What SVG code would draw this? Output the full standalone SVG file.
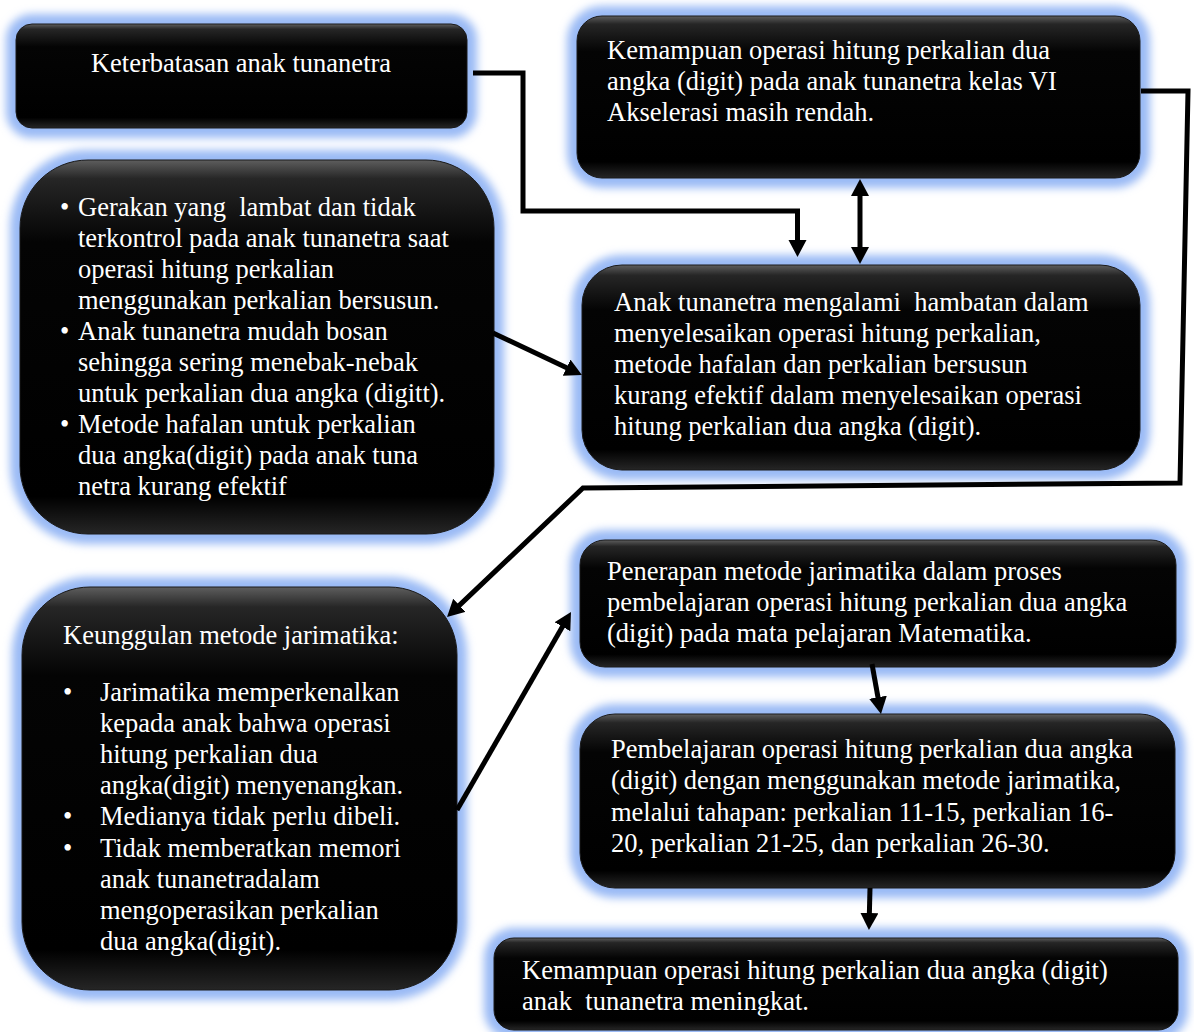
<svg xmlns="http://www.w3.org/2000/svg" width="1194" height="1032" viewBox="0 0 1194 1032">
<defs>
  <filter id="blur" x="-20%" y="-20%" width="140%" height="140%">
    <feGaussianBlur stdDeviation="4"/>
  </filter>
  <linearGradient id="body" x1="0" y1="0" x2="0" y2="1">
    <stop offset="0" stop-color="#5e5e5e"/>
    <stop offset="0.05" stop-color="#262626"/>
    <stop offset="0.22" stop-color="#040404"/>
    <stop offset="0.9" stop-color="#000"/>
    <stop offset="1" stop-color="#262626"/>
  </linearGradient>
  <marker id="ah" markerUnits="userSpaceOnUse" markerWidth="20" markerHeight="20" refX="3" refY="9" orient="auto-start-reverse">
    <path d="M0,0 L17,9 L0,18 z" fill="#000"/>
  </marker>
</defs>
<style>
  .glow { fill: #9abaf5; stroke: #9abaf5; stroke-width: 20; filter: url(#blur); }
  .box { fill: url(#body); stroke: #1a1a1a; stroke-width: 1; }
  text { font-family: "Liberation Serif", "Times New Roman", serif; font-size: 26.5px; fill: #fff; white-space: pre; }
  .conn { fill: none; stroke: #000; stroke-width: 5; stroke-linejoin: miter; }
</style>

<g id="n1">
  <rect class="glow" x="16" y="24" width="451" height="104" rx="16"/>
  <rect class="box" x="16" y="24" width="451" height="104" rx="16"/>
  <text x="241" y="72" text-anchor="middle">Keterbatasan anak tunanetra</text>
</g>

<g id="n2">
  <rect class="glow" x="577" y="16" width="563" height="162" rx="25"/>
  <rect class="box" x="577" y="16" width="563" height="162" rx="25"/>
  <text x="607" y="59">Kemampuan operasi hitung perkalian dua</text>
  <text x="607" y="90">angka (digit) pada anak tunanetra kelas VI</text>
  <text x="607" y="121">Akselerasi masih rendah.</text>
</g>

<g id="n3">
  <rect class="glow" x="20" y="160" width="474" height="374" rx="68"/>
  <rect class="box" x="20" y="160" width="474" height="374" rx="68"/>
  <text x="60" y="216">•</text><text x="78" y="216">Gerakan yang  lambat dan tidak</text>
  <text x="78" y="247">terkontrol pada anak tunanetra saat</text>
  <text x="78" y="278">operasi hitung perkalian</text>
  <text x="78" y="309">menggunakan perkalian bersusun.</text>
  <text x="60" y="340">•</text><text x="78" y="340">Anak tunanetra mudah bosan</text>
  <text x="78" y="371">sehingga sering menebak-nebak</text>
  <text x="78" y="402">untuk perkalian dua angka (digitt).</text>
  <text x="60" y="433">•</text><text x="78" y="433">Metode hafalan untuk perkalian</text>
  <text x="78" y="464">dua angka(digit) pada anak tuna</text>
  <text x="78" y="495">netra kurang efektif</text>
</g>

<g id="n4">
  <rect class="glow" x="582" y="265" width="558" height="205" rx="40"/>
  <rect class="box" x="582" y="265" width="558" height="205" rx="40"/>
  <text x="614" y="311">Anak tunanetra mengalami  hambatan dalam</text>
  <text x="614" y="342">menyelesaikan operasi hitung perkalian,</text>
  <text x="614" y="373">metode hafalan dan perkalian bersusun</text>
  <text x="614" y="404">kurang efektif dalam menyelesaikan operasi</text>
  <text x="614" y="435">hitung perkalian dua angka (digit).</text>
</g>

<g id="n5">
  <rect class="glow" x="22" y="587" width="435" height="403" rx="68"/>
  <rect class="box" x="22" y="587" width="435" height="403" rx="68"/>
  <text x="63" y="644">Keunggulan metode jarimatika:</text>
  <text x="63" y="701">•</text><text x="100" y="701">Jarimatika memperkenalkan</text>
  <text x="100" y="732">kepada anak bahwa operasi</text>
  <text x="100" y="763">hitung perkalian dua</text>
  <text x="100" y="794">angka(digit) menyenangkan.</text>
  <text x="63" y="825">•</text><text x="100" y="825">Medianya tidak perlu dibeli.</text>
  <text x="63" y="857">•</text><text x="100" y="857">Tidak memberatkan memori</text>
  <text x="100" y="888">anak tunanetradalam</text>
  <text x="100" y="919">mengoperasikan perkalian</text>
  <text x="100" y="950">dua angka(digit).</text>
</g>

<g id="n6">
  <rect class="glow" x="580" y="540" width="596" height="127" rx="25"/>
  <rect class="box" x="580" y="540" width="596" height="127" rx="25"/>
  <text x="607" y="580">Penerapan metode jarimatika dalam proses</text>
  <text x="607" y="611">pembelajaran operasi hitung perkalian dua angka</text>
  <text x="607" y="642">(digit) pada mata pelajaran Matematika.</text>
</g>

<g id="n7">
  <rect class="glow" x="580" y="714" width="595" height="174" rx="35"/>
  <rect class="box" x="580" y="714" width="595" height="174" rx="35"/>
  <text x="611" y="758">Pembelajaran operasi hitung perkalian dua angka</text>
  <text x="611" y="789">(digit) dengan menggunakan metode jarimatika,</text>
  <text x="611" y="821">melalui tahapan: perkalian 11-15, perkalian 16-</text>
  <text x="611" y="852">20, perkalian 21-25, dan perkalian 26-30.</text>
</g>

<g id="n8">
  <rect class="glow" x="494" y="938" width="684" height="92" rx="20"/>
  <rect class="box" x="494" y="938" width="684" height="92" rx="20"/>
  <text x="522" y="979">Kemampuan operasi hitung perkalian dua angka (digit)</text>
  <text x="522" y="1010">anak  tunanetra meningkat.</text>
</g>

<g id="connectors">
  <path class="conn" d="M473,73 H523 V211 H797.5 V243" marker-end="url(#ah)"/>
  <path class="conn" d="M860,193 V250" marker-start="url(#ah)" marker-end="url(#ah)"/>
  <path class="conn" d="M493,333 L569.3,369" marker-end="url(#ah)"/>
  <path class="conn" d="M1141,91 H1188 L1180,483 L583,488 L457.2,607.4" marker-end="url(#ah)"/>
  <path class="conn" d="M457,810 L564,624.1" marker-end="url(#ah)"/>
  <path class="conn" d="M872,664 L878.5,700.2" marker-end="url(#ah)"/>
  <path class="conn" d="M870,888 L869.3,916" marker-end="url(#ah)"/>
</g>
</svg>
